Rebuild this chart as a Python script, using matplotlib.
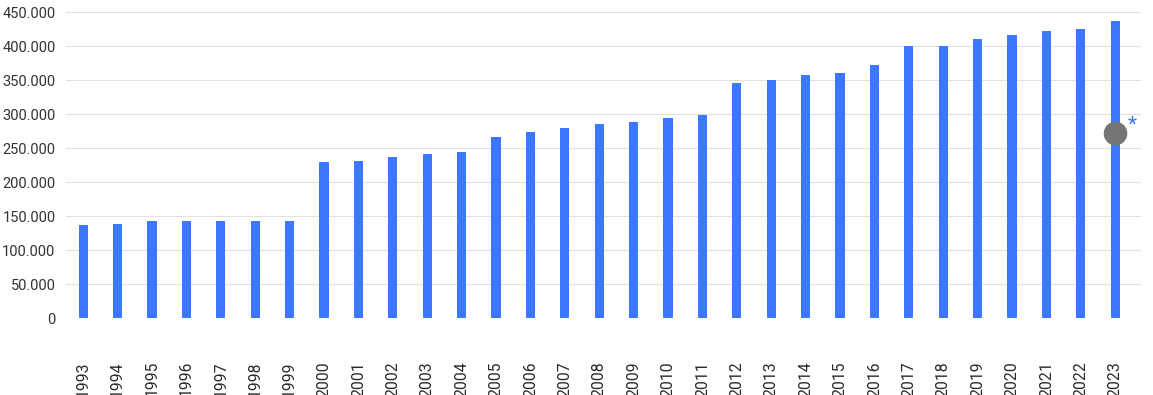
import matplotlib
matplotlib.use("Agg")
from matplotlib import pyplot as plt
from matplotlib.ticker import FuncFormatter, MultipleLocator

plt.rcParams['font.family'] = ['Roboto', 'DejaVu Sans']

years = list(range(1993, 2024))
values = [136500, 138500, 143000, 143000, 143000, 143000, 143000,
          229000, 231000, 236500, 241000, 245000, 267000, 274000,
          280000, 285000, 289000, 294000, 299000, 346000, 350000,
          357000, 361000, 373000, 400000, 400000, 411000, 416000,
          422000, 426000, 437000]
marker_year = 2023
marker_value = 272000

bar_color = '#3b78ff'
grid_color = '#e0e0e0'

fig = plt.figure(figsize=(11.53, 3.95), dpi=100)
ax = fig.add_axes([0.0572, 0.1949, 0.9896 - 0.0572, 0.9689 - 0.1949])

pos = list(range(len(years)))
ax.bar(pos, values, width=0.27, color=bar_color, zorder=3)

# grey point + asterisk on the last year
mi = years.index(marker_year)
ax.plot([mi], [marker_value], 'o', color='#757575', markersize=16, zorder=4)
ax.annotate('*', xy=(mi, marker_value), xytext=(12, 2), textcoords='offset points',
            color=bar_color, fontsize=15, ha='center', va='baseline', zorder=5)

ax.set_xlim(-0.5, len(years) - 0.25)
ax.set_ylim(0, 450000)
ax.yaxis.set_major_locator(MultipleLocator(50000))
ax.yaxis.set_major_formatter(FuncFormatter(lambda v, p: format(int(v), ',').replace(',', '.')))
ax.grid(axis='y', color=grid_color, linewidth=0.8, zorder=0)
ax.set_axisbelow(True)

ax.set_xticks(pos)
ax.set_xticklabels([str(y) for y in years], rotation=90, fontsize=11.3, color='#2a2a2a')
ax.tick_params(axis='x', length=0, pad=31)
ax.tick_params(axis='y', length=0, pad=7.5, labelsize=10.5, labelcolor='#333333')
for s in ax.spines.values():
    s.set_visible(False)

top = ax.get_yticklabels()[-1]
top.set_fontweight('bold')
top.set_color('#666666')

fig.savefig('out.png', dpi=100)
